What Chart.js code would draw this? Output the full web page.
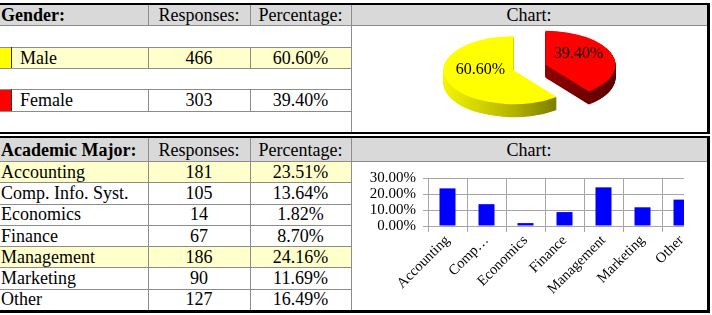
<!DOCTYPE html>
<html><head><meta charset="utf-8">
<script src="https://cdn.jsdelivr.net/npm/chart.js@4.4.0/dist/chart.umd.min.js"></script>
<style>
html,body{margin:0;padding:0;background:#fff;width:712px;height:315px;overflow:hidden;}
#page{position:relative;width:712px;height:315px;font-family:"Liberation Serif","Times New Roman",serif;font-size:18px;color:#000;}
.box{position:absolute;box-sizing:border-box;}
.txt{position:absolute;box-sizing:border-box;white-space:nowrap;line-height:1;display:flex;align-items:center;}
#pieWrap{position:absolute;left:352px;top:26px;width:355px;height:106px;}
#barWrap{position:absolute;left:352px;top:162px;width:332px;height:148px;overflow:hidden;}
</style></head>
<body><div id="page">
<div id="pieWrap"><canvas id="pie" width="355" height="106"></canvas></div>
<div id="barWrap"><canvas id="bar" width="354" height="148"></canvas></div>
</div>
<script>
// ---------- data ----------
const genderCategories = ['Male', 'Female'];
const genderResponses = [466, 303];
const genderPercentLabels = ['60.60%', '39.40%'];
const genderColors = ['#ffff00', '#ff0000'];
const genderWallColors = [['#f4f400', '#b4b400', '#5a5a00'], ['#c00000', '#900000', '#5a0000']];

const majorCategories = ['Accounting', 'Comp. Info. Syst.', 'Economics', 'Finance', 'Management', 'Marketing', 'Other'];
const majorResponses = [181, 105, 14, 67, 186, 90, 127];
const majorPercents = [23.51, 13.64, 1.82, 8.70, 24.16, 11.69, 16.49];
const majorTickLabels = ['Accounting', 'Comp…', 'Economics', 'Finance', 'Management', 'Marketing', 'Other'];
const majorHighlighted = [true, false, false, false, true, false, false];
const yTickLabels = ['0.00%', '10.00%', '20.00%', '30.00%'];

// ---------- table drawing ----------
const page = document.getElementById('page');
const GRAY = '#8c8c8c', HEAD = '#d9d9d9', HL = '#ffffcc';
function box(x, y, w, h, bg) {
  const d = document.createElement('div'); d.className = 'box';
  Object.assign(d.style, {left: x + 'px', top: y + 'px', width: w + 'px', height: h + 'px', background: bg});
  page.insertBefore(d, page.firstChild); return d;
}
function txt(s, x, y, w, h, align, bold, pad) {
  const d = document.createElement('div'); d.className = 'txt'; d.textContent = s;
  Object.assign(d.style, {left: x + 'px', top: y + 'px', width: w + 'px', height: h + 'px',
    justifyContent: align === 'left' ? 'flex-start' : 'center', paddingLeft: (pad || 0) + 'px',
    fontWeight: bold ? 'bold' : 'normal'});
  page.insertBefore(d, document.getElementById('pieWrap'));
}
const hl = (x, y, w) => box(x, y, w, 1, GRAY);
const vl = (x, y, h) => box(x, y, 1, h, GRAY);
const C = [0, 148, 250, 351, 707];

// top table (gender)
(function () {
  const ops = [];
  ops.push(() => box(0, 5, 707, 20, HEAD));
  ops.push(() => box(12, 48, 339, 20, HL));
  ops.push(() => box(0, 48, 11, 20, genderColors[0]));
  ops.push(() => box(0, 90, 11, 21, genderColors[1]));
  ops.push(() => hl(0, 25, 707));
  [47, 68, 89, 111].forEach(y => ops.push(() => hl(0, y, 351)));
  ops.push(() => vl(148, 5, 20)); ops.push(() => vl(250, 5, 20)); ops.push(() => vl(351, 5, 127));
  [[47, 21], [89, 22]].forEach(([y, h]) => { ops.push(() => vl(148, y, h)); ops.push(() => vl(250, y, h)); ops.push(() => box(11, y, 1, h, '#333')); });
  ops.push(() => box(0, 3, 710, 2, '#000'));
  ops.push(() => box(0, 132, 710, 2, '#000'));
  ops.push(() => box(707, 3, 3, 131, '#000'));
  ops.reverse().forEach(f => f());

  txt('Gender:', 0, 5, 148, 20, 'left', true, 1);
  txt('Responses:', C[1], 5, C[2] - C[1], 20, 'center');
  txt('Percentage:', C[2], 5, C[3] - C[2], 20, 'center');
  txt('Chart:', C[3], 5, C[4] - C[3], 20, 'center');
  const gRows = [[47, 21], [89, 22]];
  genderCategories.forEach((g, i) => {
    const [y, h] = gRows[i];
    txt(g, 12, y, 136, h, 'left', false, 8);
    txt(String(genderResponses[i]), C[1], y, C[2] - C[1], h, 'center');
    txt(genderPercentLabels[i], C[2], y, C[3] - C[2], h, 'center');
  });
})();

// bottom table (majors)
(function () {
  const top = 161, rh = 21.29;
  const ops = [];
  ops.push(() => box(0, 138, 707, 23, HEAD));
  majorHighlighted.forEach((h, i) => { if (h) ops.push(() => box(0, top + i * rh, 351, rh, HL)); });
  ops.push(() => hl(0, top, 707));
  for (let i = 1; i < majorCategories.length; i++) ops.push(() => hl(0, Math.round(top + i * rh), 351));
  ops.push(() => vl(148, 138, 172)); ops.push(() => vl(250, 138, 172)); ops.push(() => vl(351, 138, 172));
  ops.push(() => box(0, 136, 710, 2, '#000'));
  ops.push(() => box(0, 310, 710, 3, '#000'));
  ops.push(() => box(707, 136, 3, 177, '#000'));
  ops.reverse().forEach(f => f());

  txt('Academic Major:', 0, 138, 148, 23, 'left', true, 1);
  txt('Responses:', C[1], 138, C[2] - C[1], 23, 'center');
  txt('Percentage:', C[2], 138, C[3] - C[2], 23, 'center');
  txt('Chart:', C[3], 138, C[4] - C[3], 23, 'center');
  majorCategories.forEach((m, i) => {
    const y = top + i * rh;
    txt(m, 0, y, 148, rh, 'left', false, 1);
    txt(String(majorResponses[i]), C[1], y, C[2] - C[1], rh, 'center');
    txt(majorPercents[i].toFixed(2) + '%', C[2], y, C[3] - C[2], rh, 'center');
  });
})();

// ---------- pie chart (3D look) ----------
const PIE_RX = 70, PIE_RY = 34, PIE_DEPTH = 13, PIE_EXPLODE = 17, LABEL_DY = -5.5;
const genderTotal = genderResponses.reduce((a, b) => a + b, 0);
const pie3d = {
  id: 'pie3d',
  _place(ctx, arc, cx, cy, sx, sy, dy) {
    const mid = (arc.startAngle + arc.endAngle) / 2;
    const ex = Math.cos(mid) * PIE_EXPLODE, ey = Math.sin(mid) * PIE_EXPLODE * (PIE_RY / PIE_RX);
    ctx.translate(cx + ex, cy + ey + dy); ctx.scale(sx, sy); ctx.translate(-cx, -cy);
  },
  beforeDatasetsDraw(chart) {
    const ctx = chart.ctx, arcs = chart.getDatasetMeta(0).data;
    if (!arcs.length) return;
    const cx = arcs[0].x, cy = arcs[0].y, r = arcs[0].outerRadius;
    const sx = PIE_RX / r, sy = PIE_RY / r;
    arcs.forEach((arc, i) => {
      for (let d = PIE_DEPTH; d > 0; d -= 0.5) {
        ctx.save();
        this._place(ctx, arc, cx, cy, sx, sy, d);
        const g = ctx.createLinearGradient(cx - r, 0, cx + r, 0);
        g.addColorStop(0, genderWallColors[i][0]);
        g.addColorStop(0.5, genderWallColors[i][1]);
        g.addColorStop(1, genderWallColors[i][2]);
        ctx.fillStyle = g;
        ctx.beginPath(); ctx.moveTo(cx, cy); ctx.arc(cx, cy, r, arc.startAngle, arc.endAngle); ctx.closePath(); ctx.fill();
        ctx.restore();
      }
    });
    arcs.forEach(arc => { ctx.save(); this._place(ctx, arc, cx, cy, sx, sy, 0); arc.draw(ctx); ctx.restore(); });
    return false;
  },
  afterDraw(chart) {
    const ctx = chart.ctx, arcs = chart.getDatasetMeta(0).data;
    if (!arcs.length) return;
    const cx = arcs[0].x, cy = arcs[0].y;
    ctx.save();
    ctx.font = '16px "Liberation Serif"'; ctx.fillStyle = '#000'; ctx.textAlign = 'center'; ctx.textBaseline = 'middle';
    arcs.forEach((arc, i) => {
      const mid = (arc.startAngle + arc.endAngle) / 2;
      const ex = Math.cos(mid) * PIE_EXPLODE, ey = Math.sin(mid) * PIE_EXPLODE * (PIE_RY / PIE_RX);
      const lx = cx + ex + Math.cos(mid) * 0.5 * PIE_RX;
      const ly = cy + ey + Math.sin(mid) * 0.5 * PIE_RY + LABEL_DY;
      ctx.fillText((genderResponses[i] / genderTotal * 100).toFixed(2) + '%', lx, ly);
    });
    ctx.restore();
  }
};
new Chart(document.getElementById('pie'), {
  type: 'pie',
  data: {labels: genderCategories, datasets: [{data: genderResponses, backgroundColor: genderColors, borderWidth: 0}]},
  options: {
    responsive: false, animation: false, devicePixelRatio: 1,
    rotation: genderResponses[1] / genderTotal * 360,
    layout: {padding: {top: 0, bottom: 23, left: 0, right: 0}},
    plugins: {legend: {display: false}, tooltip: {enabled: false}}
  },
  plugins: [pie3d]
});

// ---------- bar chart ----------
new Chart(document.getElementById('bar'), {
  type: 'bar',
  data: {labels: majorTickLabels, datasets: [{data: majorPercents, backgroundColor: '#0000ff', borderWidth: 0, barPercentage: 0.41, categoryPercentage: 1}]},
  options: {
    responsive: false, animation: false, devicePixelRatio: 1,
    layout: {padding: {top: 8, right: 5, bottom: 0, left: 0}},
    plugins: {legend: {display: false}, tooltip: {enabled: false}},
    scales: {
      x: {
        grid: {color: '#a6a6a6', tickLength: 6, offset: true},
        border: {color: '#a6a6a6'},
        ticks: {color: '#000', font: {family: 'Liberation Serif', size: 14.5}, minRotation: 45, maxRotation: 45, autoSkip: false, padding: 0},
        afterFit(s) { s.height = 84; }
      },
      y: {
        min: 0, max: 30,
        grid: {color: '#a6a6a6', tickLength: 5},
        border: {color: '#a6a6a6'},
        ticks: {stepSize: 10, autoSkip: false, color: '#000', font: {family: 'Liberation Serif', size: 15}, padding: 7, callback: (v, i) => yTickLabels[i]},
        afterFit(s) { s.width = 76; }
      }
    }
  }
});
</script>
</body></html>
